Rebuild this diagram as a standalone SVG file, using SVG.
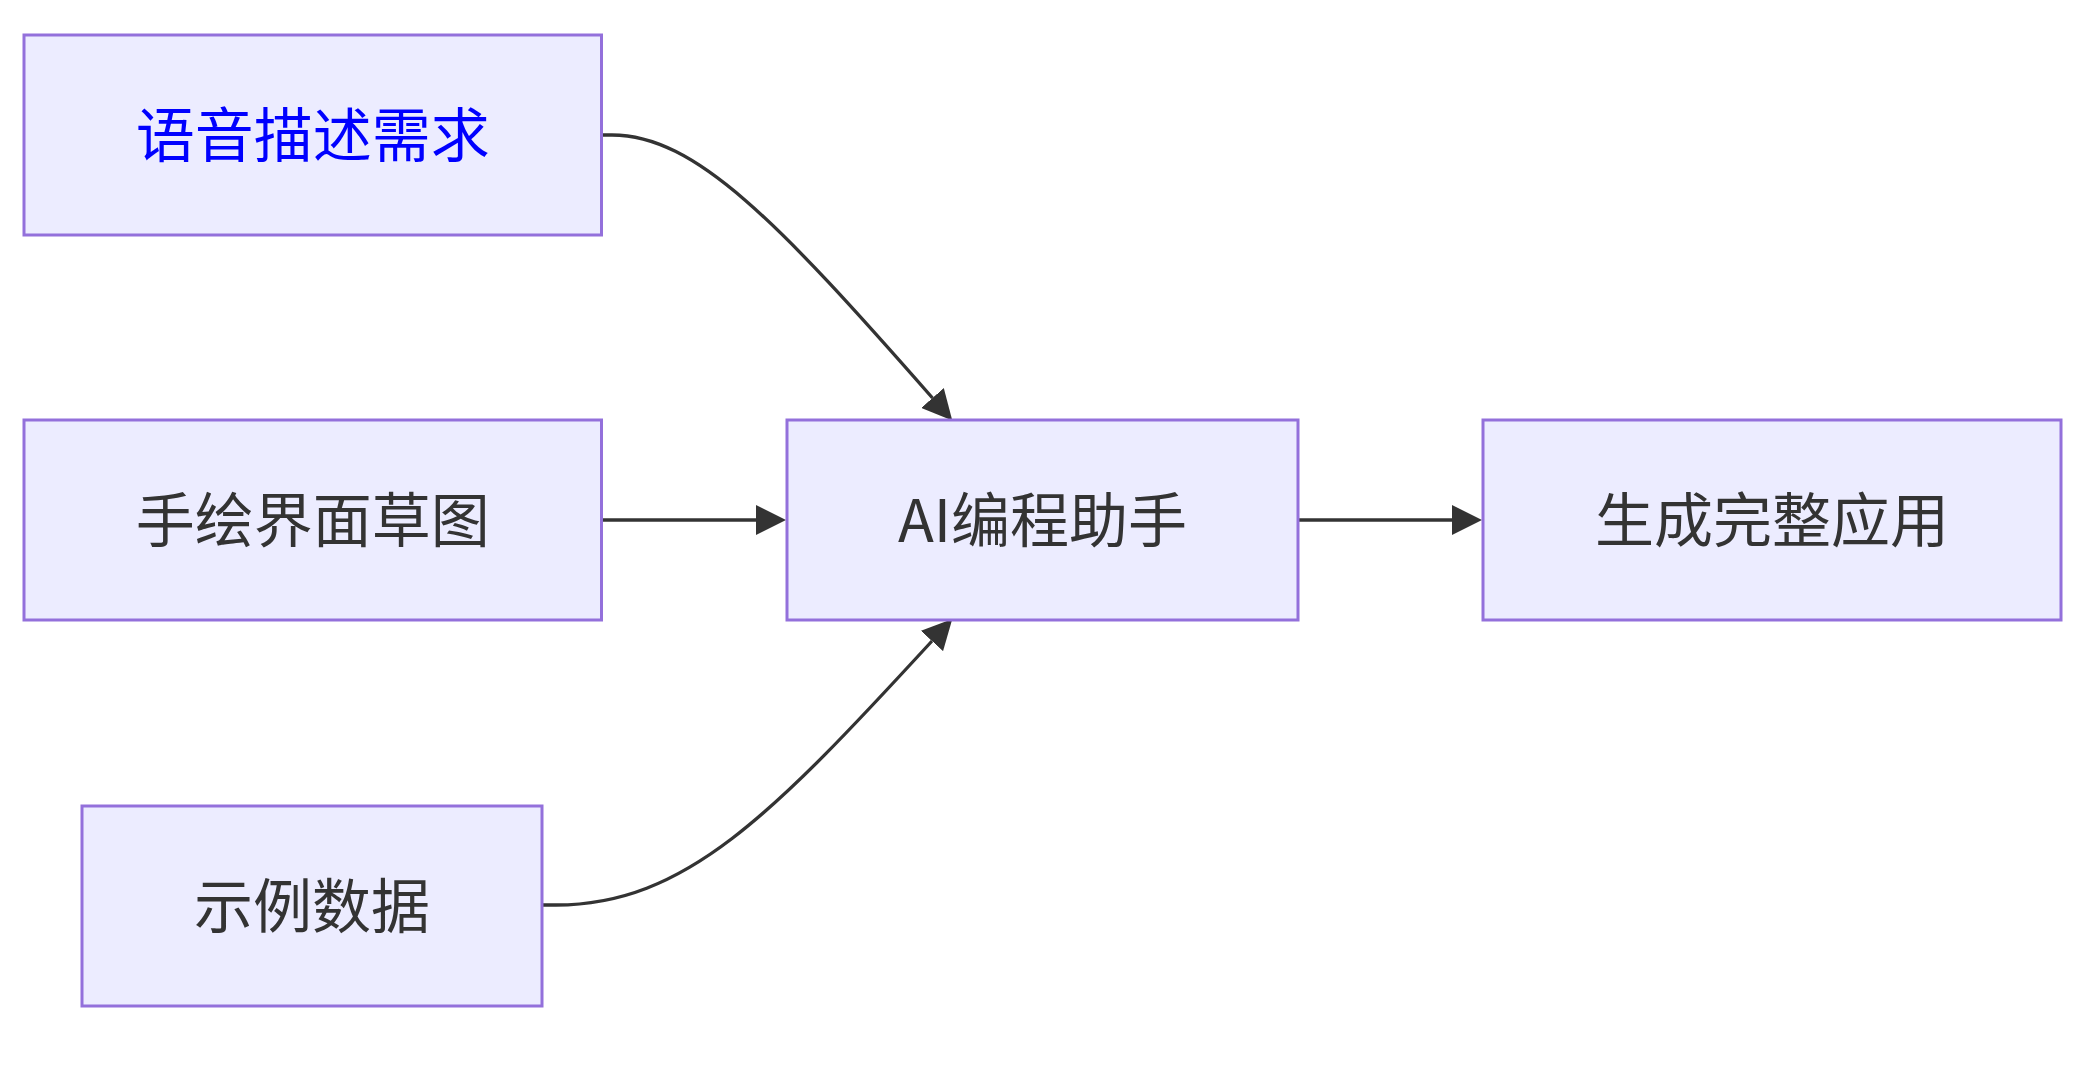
<svg xmlns="http://www.w3.org/2000/svg" width="2073" height="1088" viewBox="0 0 2073 1088">
<style>
.node rect{fill:#ECECFF;stroke:#9370DB;stroke-width:3}
.node text{font-family:"Noto Sans CJK SC","Liberation Sans",sans-serif;font-size:59px;fill:#333333;text-anchor:middle;dominant-baseline:central}
.edge{fill:none;stroke:#333333;stroke-width:3.3}
</style>
<defs>
<marker id="arrow" viewBox="0 0 10 10" refX="0" refY="5" markerWidth="30" markerHeight="30" markerUnits="userSpaceOnUse" orient="auto">
<path d="M0,0 L10,5 L0,10 z" fill="#333333"/>
</marker>
</defs>
<rect width="2073" height="1088" fill="#ffffff"/>
<g id="connectors">
<path class="edge" d="M601.5,135 L612,135 C695,135 778,222 932.5,398" marker-end="url(#arrow)"/>
<path class="edge" d="M601.5,520 L756,520" marker-end="url(#arrow)"/>
<path class="edge" d="M542,905 L556,905 C685,905 772,815 932,641" marker-end="url(#arrow)"/>
<path class="edge" d="M1298,520 L1452,520" marker-end="url(#arrow)"/>
</g>
<g id="node-voice" class="node">
<rect x="24" y="35" width="577.5" height="200"/>
<text x="312.7" y="131" style="fill:#0000FF">语音描述需求</text>
</g>
<g id="node-sketch" class="node">
<rect x="24" y="420" width="577.5" height="200"/>
<text x="312.7" y="516">手绘界面草图</text>
</g>
<g id="node-data" class="node">
<rect x="82" y="806" width="460" height="200"/>
<text x="312" y="902">示例数据</text>
</g>
<g id="node-ai" class="node">
<rect x="787" y="420" width="511" height="200"/>
<text x="1042.5" y="516">AI编程助手</text>
</g>
<g id="node-app" class="node">
<rect x="1483" y="420" width="578" height="200"/>
<text x="1772" y="516">生成完整应用</text>
</g>
</svg>
